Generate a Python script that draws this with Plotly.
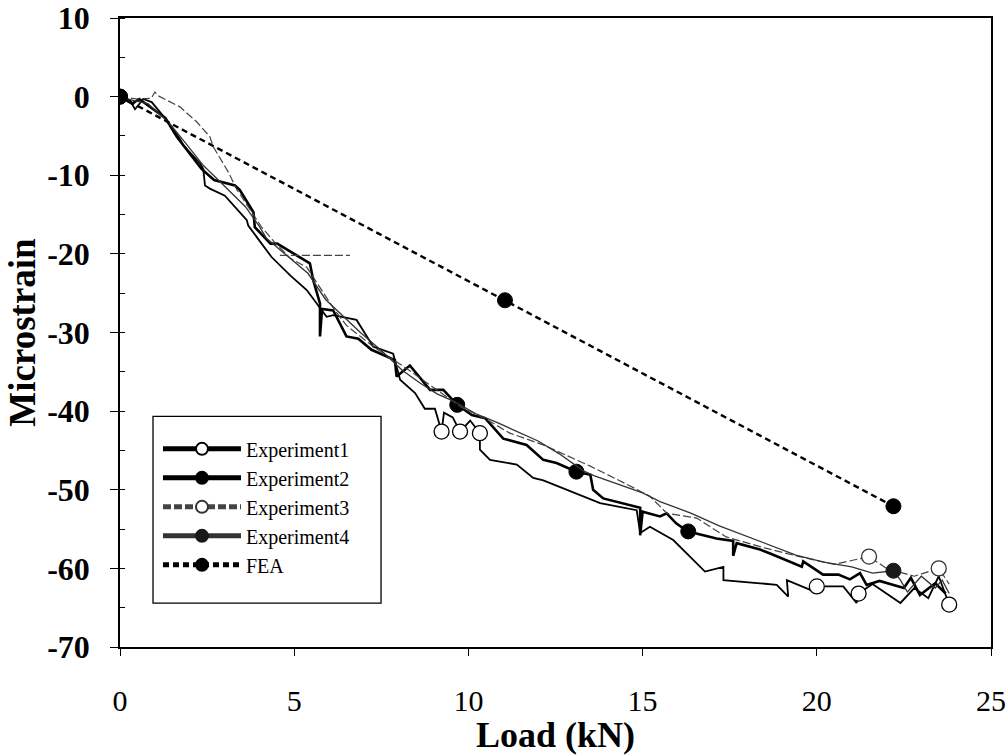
import plotly.graph_objects as go

# ---------------- data ----------------
exp1_x = [0, 0.29, 0.43, 0.67, 0.91, 1.34, 1.72, 1.82, 2.30, 2.39, 2.44, 2.58, 3.01, 3.64, 3.68, 4.35,
          4.90, 5.36, 5.93, 6.12, 6.79, 7.27, 7.84, 8.04, 8.47, 8.75, 9.04, 9.23, 9.30, 9.55, 9.76, 10.05,
          10.33, 10.33, 10.62, 11.39, 11.86, 12.15, 13.78, 14.83, 14.93, 15.21, 15.88, 16.79, 17.32, 17.32,
          18.37, 18.85, 19.18, 19.14, 19.90, 20.00, 20.76, 21.14, 21.20, 21.60, 22.40, 22.80, 23.20, 23.50, 23.80]
exp1_y = [0, -0.5, -1.6, -0.3, -0.7, -3.0, -5.4, -6.2, -8.5, -9.2, -11.3, -11.7, -12.6, -15.7, -16.4, -20.4,
          -22.8, -24.6, -28.0, -27.8, -28.4, -31.8, -32.7, -36.0, -37.7, -39.7, -39.7, -42.6, -40.2, -40.8, -42.6, -41.2,
          -42.8, -44.9, -46.2, -46.8, -48.5, -48.8, -51.7, -52.6, -55.5, -54.7, -56.4, -60.4, -59.8, -61.5,
          -61.9, -62.1, -63.6, -61.5, -62.9, -62.3, -62.3, -64.4, -63.2, -62.0, -64.4, -62.5, -63.8, -61.0, -64.6]
exp1_mark_x = [9.23, 9.76, 10.33, 20.00, 21.20, 23.80]
exp1_mark_y = [-42.6, -42.6, -42.8, -62.3, -63.2, -64.6]

exp2_x = [0, 0.35, 0.55, 0.80, 1.30, 1.63, 2.00, 2.34, 2.70, 3.30, 3.44, 3.83, 3.87, 4.32, 4.51, 5.45, 5.55,
          5.74, 5.74, 5.80, 6.12, 6.50, 6.84, 7.22, 7.89, 7.94, 8.32, 8.90, 9.28, 9.68, 10.10, 10.48, 11.00,
          11.34, 11.67, 12.15, 12.53, 13.10, 13.50, 13.58, 13.87, 14.93, 14.93, 15.00, 15.50, 15.69, 15.97,
          16.31, 17.12, 17.60, 17.60, 17.70, 18.37, 18.66, 19.57, 19.61, 20.18, 20.62, 20.95, 21.24, 21.43,
          21.80, 22.50, 22.70, 22.96, 23.40, 23.70]
exp2_y = [0, -0.9, -0.3, -1.1, -2.7, -5.1, -7.3, -9.2, -10.6, -11.3, -11.9, -14.7, -16.6, -18.7, -18.7, -21.2, -23.4,
          -26.3, -30.5, -27.0, -27.2, -30.5, -30.8, -32.2, -33.5, -35.6, -34.2, -37.3, -37.3, -39.2, -40.5, -40.9, -43.5,
          -43.9, -44.3, -46.2, -46.6, -47.7, -48.1, -50.0, -51.1, -52.3, -55.8, -52.8, -53.4, -53.0, -54.3,
          -55.3, -56.2, -56.5, -58.4, -56.8, -57.6, -58.1, -59.8, -59.1, -60.8, -60.8, -61.4, -60.6, -62.1,
          -61.6, -62.5, -61.2, -63.4, -61.9, -63.2]
exp2_mark_x = [0, 9.68, 13.10, 16.31]
exp2_mark_y = [0, -39.2, -47.7, -55.3]

exp3_x = [0, 0.5, 0.9, 1.0, 1.1, 1.43, 1.72, 2.2, 2.58, 2.68, 3.11, 3.35, 3.7, 4.05, 4.45, 4.9, 5.36, 6.17,
          6.5, 7.27, 8.2, 9.0, 9.8, 10.5, 11.19, 12.15, 12.5, 13.5, 14.5, 15.2, 15.7, 16.55, 17.4, 18.5, 19.5,
          20.5, 21.5, 22.0, 22.8, 23.5, 23.8, None, 4.59, 6.6]
exp3_y = [0, -0.3, -0.2, 0.6, 0.1, -0.7, -1.3, -3.2, -5.1, -6.4, -9.6, -11.8, -14.2, -16.5, -18.6, -20.6, -21.7, -27.2,
          -29.1, -31.8, -34.5, -37.0, -39.5, -41.0, -42.8, -44.3, -45.0, -47.0, -49.2, -50.8, -53.0, -53.6, -56.0, -57.4, -58.5,
          -59.5, -58.5, -60.0, -61.0, -60.0, -62.0, None, -20.2, -20.2]
exp3_mark_x = [21.5, 23.5]
exp3_mark_y = [-58.5, -60.0]

exp4_x = [0, 0.4, 0.8, 1.4, 1.9, 2.4, 2.8, 3.2, 3.6, 4.0, 4.2, 4.6, 5.0, 5.4, 5.9, 6.3, 6.9, 7.5, 8.1, 8.6,
          9.1, 9.6, 10.2, 10.8, 11.4, 12.0, 12.6, 13.3, 13.6, 15.0, 15.5, 16.4, 17.2, 17.8, 18.6, 19.4, 20.2,
          21.0, 21.6, 22.2, 22.4, 22.6, 23.0, 23.4, 23.6, 23.8]
exp4_y = [0, -0.5, -0.9, -3.3, -6.0, -8.8, -10.5, -12.2, -14.0, -16.5, -18.0, -19.5, -21.0, -22.5, -25.8, -27.5,
          -30.0, -32.3, -34.8, -36.4, -37.8, -38.8, -40.3, -41.4, -42.6, -43.8, -45.4, -47.6, -48.2, -50.4, -51.5,
          -53.0, -54.6, -55.6, -57.0, -58.3, -59.2, -59.8, -60.6, -60.3, -61.5, -63.0, -61.0, -62.5, -61.5, -63.2]
exp4_mark_x = [22.2]
exp4_mark_y = [-60.3]

fea_x = [0, 11.05, 22.2]
fea_y = [0, -25.9, -52.1]

series_names = ["Experiment1", "Experiment2", "Experiment3", "Experiment4", "FEA"]

x_tickvals = [0, 5, 10, 15, 20, 25]
x_ticktext = ["0", "5", "10", "15", "20", "25"]
y_tickvals = [10, 0, -10, -20, -30, -40, -50, -60, -70]
y_ticktext = ["10", "0", "-10", "-20", "-30", "-40", "-50", "-60", "-70"]

FONT = "Liberation Serif, Times New Roman, serif"


def mark_sizes(xs, ys, mxs, mys, size):
    marks = set(zip(mxs, mys))
    return [size if (x, y) in marks else 0 for x, y in zip(xs, ys)]


fig = go.Figure()

specs = [
    (exp1_x, exp1_y, exp1_mark_x, exp1_mark_y,
     dict(color="black", width=1.8), dict(color="white", line=dict(color="black", width=1.3))),
    (exp2_x, exp2_y, exp2_mark_x, exp2_mark_y,
     dict(color="black", width=2.6), dict(color="black", line=dict(color="black", width=1))),
    (exp3_x, exp3_y, exp3_mark_x, exp3_mark_y,
     dict(color="#444444", width=1.2, dash="8px,3px"), dict(color="white", line=dict(color="#333333", width=1.3))),
    (exp4_x, exp4_y, exp4_mark_x, exp4_mark_y,
     dict(color="#333333", width=1.3), dict(color="#1a1a1a", line=dict(color="#1a1a1a", width=1))),
    (fea_x, fea_y, fea_x, fea_y,
     dict(color="black", width=2.4, dash="6px,4px"), dict(color="black", line=dict(color="black", width=1))),
]

for name, (xs, ys, mxs, mys, line, marker) in zip(series_names, specs):
    marker = dict(marker)
    marker["size"] = mark_sizes(xs, ys, mxs, mys, 15)
    marker["symbol"] = "circle"
    marker["opacity"] = 1
    fig.add_trace(go.Scatter(x=xs, y=ys, mode="lines+markers", name=name,
                             line=line, marker=marker, connectgaps=False))

axis_common = dict(
    showgrid=False, zeroline=False, showline=True, linecolor="black", linewidth=1.5,
    mirror=True, ticks="outside", tickcolor="black", ticklabeloverflow="allow",
)

fig.update_xaxes(
    range=[0, 25], tickmode="array", tickvals=x_tickvals, ticktext=x_ticktext,
    ticklen=7, tickwidth=1.2, ticklabelstandoff=19,
    tickfont=dict(family=FONT, size=30, color="black"),
    title=dict(text="<b>Load (kN)</b>", font=dict(family=FONT, size=36, color="black"), standoff=6),
    **axis_common,
)
fig.update_yaxes(
    range=[-70, 10], tickmode="array", tickvals=y_tickvals, ticktext=y_ticktext,
    ticklen=8, tickwidth=1.2, ticklabelstandoff=14,
    tickfont=dict(family=FONT, size=32, color="black", weight="bold"),
    minor=dict(dtick=5, tick0=0, ticks="inside", ticklen=5, tickcolor="black"),
    title=dict(text="<b>Microstrain</b>", font=dict(family=FONT, size=37, color="black"), standoff=0),
    **axis_common,
)

fig.update_layout(
    width=1007, height=755,
    margin=dict(l=120, r=16, t=18, b=108, autoexpand=False),
    paper_bgcolor="white", plot_bgcolor="white",
    showlegend=True,
    shapes=[dict(type="rect", xref="paper", yref="paper",
                 x0=0.0379, x1=0.2997, y0=0.0698, y1=0.3667,
                 line=dict(color="black", width=1.3), fillcolor="white", layer="above")],
    legend=dict(
        x=0.0436, y=0.346, xanchor="left", yanchor="top",
        bgcolor="rgba(0,0,0,0)", borderwidth=0,
        font=dict(family=FONT, size=20, color="black"),
        itemsizing="constant", itemwidth=78, tracegroupgap=0,
    ),
)

fig.write_html("out.html")
